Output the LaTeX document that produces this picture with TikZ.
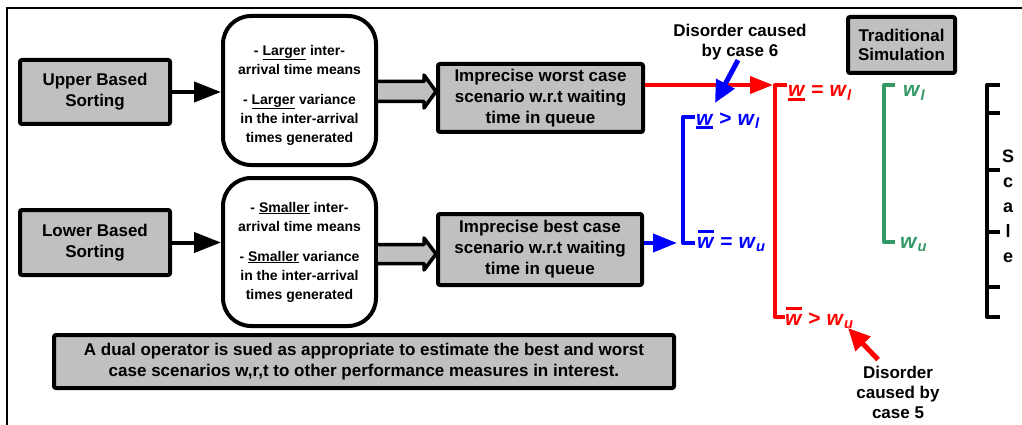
\documentclass[tikz,border=0pt]{standalone}
\usepackage{fontspec}
\setmainfont{Liberation Sans}
\usetikzlibrary{arrows.meta,calc}
\definecolor{boxgray}{RGB}{192,192,192}
\definecolor{myred}{RGB}{255,0,0}
\definecolor{myblue}{RGB}{0,0,255}
\definecolor{mygreen}{RGB}{51,153,102}
\newcommand\wit{\textit{w}}
\newcommand\wund{\rlap{\rule[-0.17em]{0.78em}{0.13em}}\textit{w}}
\newcommand\wov{\rlap{\hspace{0.02em}\rule[0.72em]{0.8em}{0.14em}}\textit{w}}
\newcommand\wsub[1]{\textsubscript{\textit{#1}}}
\begin{document}
\begin{tikzpicture}[x=1pt,y=1pt,
 graybox/.style={draw=black,line width=4pt,fill=boxgray,rounded corners=2pt,inner sep=0pt,align=center,font=\bfseries\fontsize{17}{21}\selectfont},
 roundbox/.style={draw=black,line width=4pt,fill=white,rounded corners=28pt,minimum width=153pt,inner sep=0pt},
 roundtext/.style={align=center,inner sep=0pt,font=\bfseries\fontsize{14}{19}\selectfont},
 note/.style={align=center,inner sep=0pt,font=\bfseries\fontsize{17}{20}\selectfont},
 wlabel/.style={anchor=base west,inner sep=0pt,font=\bfseries\fontsize{21}{24}\selectfont},
 blackarrow/.style={line width=4pt,-{Triangle[length=27pt,width=20pt]}},
 fatarrow/.style={line width=3.5pt,draw=black,fill=boxgray,line join=round},
 bracket/.style={line width=4pt,line join=round},
]
\useasboundingbox (0,0) rectangle (1022,-425);
\draw[line width=2pt] (7,-425) -- (7,-8) -- (1022,-8);

% left column
\node[graybox,minimum width=150pt,minimum height=64pt] (ubs) at (95,-92) {Upper Based\\Sorting};
\node[graybox,minimum width=150pt,minimum height=65pt] (lbs) at (95,-242.5) {Lower Based\\Sorting};

% rounded boxes
\node[roundbox,minimum height=149pt] (r1) at (299.5,-90.5) {};
\node[roundtext] (r1t) at (299.5,-95) {- \underline{Larger} inter-\\arrival time means\\[11pt]- \underline{Larger} variance\\in the inter-arrival\\times generated};
\node[roundbox,minimum height=148pt] (r2) at (299.5,-252) {};
\node[roundtext] (r2t) at (299.5,-252) {- \underline{Smaller} inter-\\arrival time means\\[11pt]- \underline{Smaller} variance\\in the inter-arrival\\times generated};

% result boxes
\node[graybox,minimum width=205pt,minimum height=68pt] (worst) at (540.5,-98) {Imprecise worst case\\scenario w.r.t waiting\\time in queue};
\node[graybox,minimum width=204pt,minimum height=71pt] (best) at (540,-249.5) {Imprecise best case\\scenario w.r.t waiting\\time in queue};
\node[graybox,minimum width=620pt,minimum height=53pt] (dual) at (364,-361.5) {A dual operator is sued as appropriate to estimate the best and worst\\case scenarios w,r,t to other performance measures in interest.};
\node[graybox,minimum width=107pt,minimum height=56pt,font=\bfseries\fontsize{17}{19}\selectfont] (trad) at (901.5,-45) {Traditional\\Simulation};

% black arrows
\draw[blackarrow] (ubs.east) -- (ubs.east -| r1.west);
\draw[blackarrow] (lbs.east) -- (lbs.east -| r2.west);

% fat hollow arrows
\draw[fatarrow] let \p1=(r1.east), \p2=(worst.west) in
  (\x1,-81.5pt) -- (\x2-12pt,-81.5pt) -- (\x2-12pt,-75pt) -- (\x2,-91.5pt) -- (\x2-12pt,-108pt) -- (\x2-12pt,-101.5pt) -- (\x1,-101.5pt);
\draw[fatarrow] let \p1=(r2.east), \p2=(best.west) in
  (\x1,-244.5pt) -- (\x2-12pt,-244.5pt) -- (\x2-12pt,-238pt) -- (\x2,-254pt) -- (\x2-12pt,-270pt) -- (\x2-12pt,-263.5pt) -- (\x1,-263.5pt);

% red bracket
\coordinate (rtop) at (775,-85);
\coordinate (rbot) at (775,-317);
\draw[line width=4pt,myred,-{Triangle[length=23pt,width=17pt]}] (worst.east |- rtop) -- ([xshift=-2pt]rtop);
\draw[bracket,myred] (787,-85) -- (rtop) -- (rbot) -- (785,-317);
\node[wlabel,myred] (rl) at (788,-97) {\wund{} = \wit\wsub{l}};
\node[wlabel,myred] (ru) at (785,-325) {\wov{} > \wit\wsub{u}};

% blue bracket
\coordinate (btop) at (683,-117);
\coordinate (bbot) at (683,-243);
\draw[bracket,myblue] (695,-117) -- (btop) -- (bbot) -- (695,-243);
\draw[line width=4pt,myblue,-{Triangle[length=24pt,width=18pt]}] (best.east |- bbot) -- ([xshift=-6pt]bbot);
\node[wlabel,myblue] (bl) at (696,-125) {\wund{} > \wit\wsub{l}};
\node[wlabel,myblue] (bu) at (697,-248) {\wov{} = \wit\wsub{u}};

% green bracket
\draw[bracket,mygreen] (895,-85) -- (884,-85) -- (884,-242) -- (895,-242);
\node[wlabel,mygreen] (gl) at (903,-97) {\wit\wsub{l}};
\node[wlabel,mygreen] (gu) at (900,-248) {\wit\wsub{u}};

% disorder annotations
\node[note] (d6) at (740,-42) {Disorder caused\\by case 6};
\coordinate (d6tip) at (715,-103);
\draw[line width=5pt,myblue,-{Triangle[length=22pt,width=20pt]}] ([xshift=-2pt]d6.south) -- (d6tip);
\node[note] (d5) at (898,-392) {Disorder\\caused by\\case 5};
\coordinate (d5tip) at (848,-328);
\draw[line width=5pt,myred,-{Triangle[length=22pt,width=20pt]}] ([xshift=-20pt,yshift=6pt]d5.north) -- (d5tip);

% scale
\draw[bracket,black] (1000,-85) -- (987,-85) -- (987,-317) -- (1000,-317);
\foreach \yy in {113,170,232,287} \draw[line width=4pt] (987,-\yy) -- (1000,-\yy);
\node[align=center,inner sep=0pt,font=\bfseries\fontsize{18}{25}\selectfont] (scale) at (1008,-206) {S\\c\\a\\l\\e};
\end{tikzpicture}
\end{document}
